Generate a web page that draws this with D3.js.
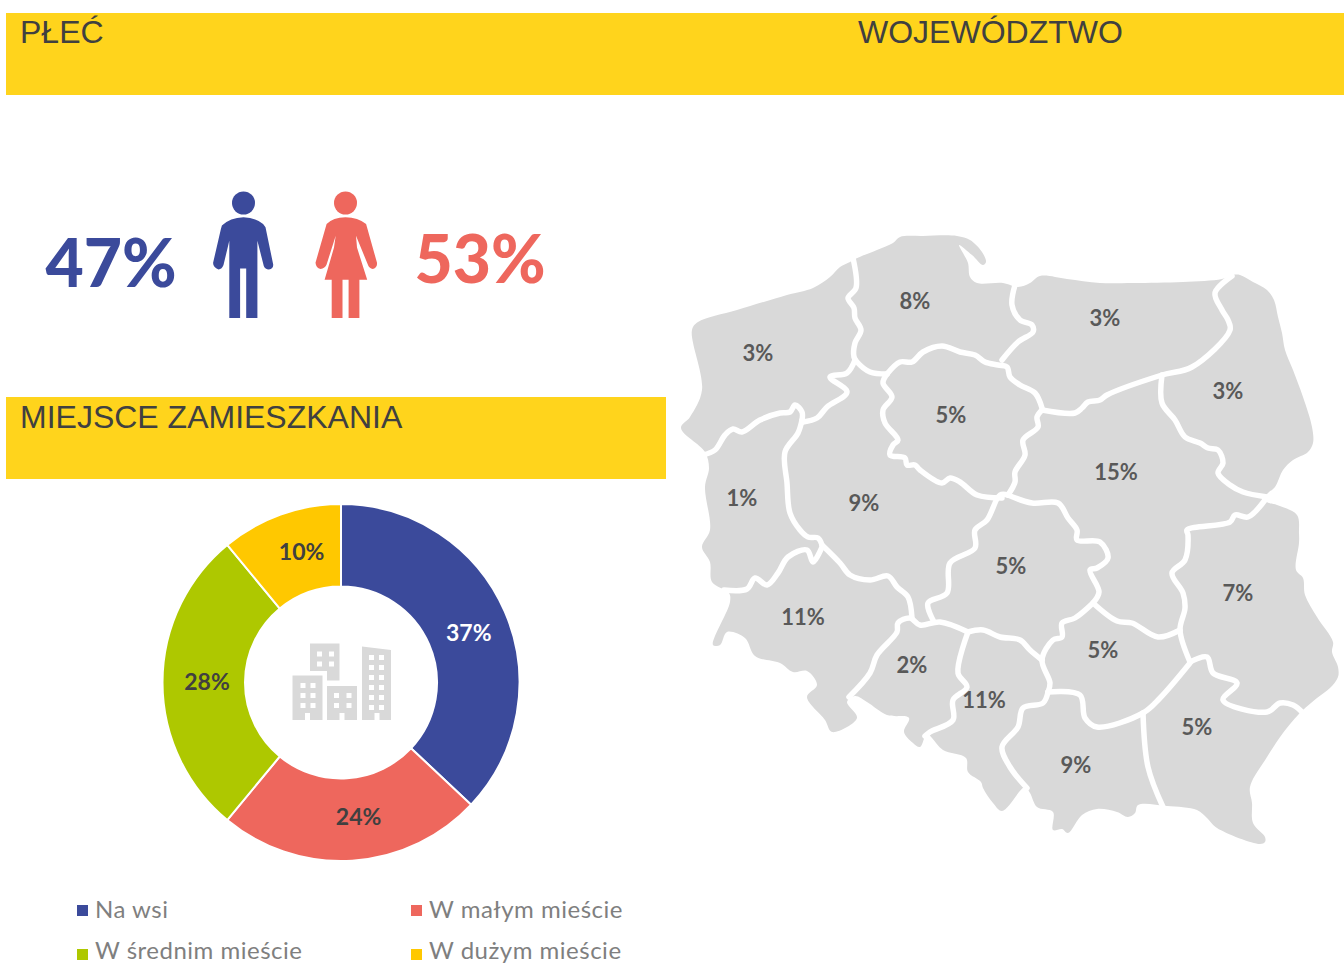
<!DOCTYPE html>
<html>
<head>
<meta charset="utf-8">
<script src="https://cdn.jsdelivr.net/npm/d3@7"></script>
<style>
body { margin: 0; background: #fff; }
svg { display: block; }
</style>
</head>
<body>
<svg></svg>
<script>
// sections
let headings = ['PŁEĆ', 'WOJEWÓDZTWO', 'MIEJSCE ZAMIESZKANIA']

// gender
let genders = ['Mężczyźni', 'Kobiety']
let genderValues = [47, 53]

// place of residence, slice sizes are read from the ring, the printed labels are separate
let places = ['Na wsi', 'W małym mieście', 'W średnim mieście', 'W dużym mieście']
let placeShares = [37, 24, 28, 11]
let placeLabels = ['37%', '24%', '28%', '10%']

// voivodeships
let regions = ['Zachodniopomorskie', 'Pomorskie', 'Warmińsko-Mazurskie', 'Podlaskie', 'Lubuskie', 'Wielkopolskie',
    'Kujawsko-Pomorskie', 'Mazowieckie', 'Łódzkie', 'Lubelskie', 'Dolnośląskie', 'Opolskie', 'Śląskie',
    'Świętokrzyskie', 'Małopolskie', 'Podkarpackie']
let regionValues = [3, 8, 3, 3, 1, 9, 5, 15, 5, 7, 11, 2, 11, 5, 9, 5]

// traced geometry of the map, in map units
let regionAnchors = [[758,353],[915,301],[1105,318],[1228,391],[742,498],[864,503],[951,415],[1116,472],
    [1011,566],[1238,593],[803,617],[912,665],[984,700],[1103,650],[1076,765],[1197,727]]

let countryOutline = [[855,259],[877,250],[893,243],[900,237],[923,236],[957,236],[970,240],[982,252],[986,262],[983,265],
    [972,255],[959,245],[963,253],[968,263],[970,277],[977,283],[1003,283],[1018,287],[1030,283],[1040,276],[1067,279],
    [1100,283],[1133,283],[1183,282],[1222,279],[1233,275],[1240,275],[1253,282],[1267,290],[1274,300],[1278,317],
    [1282,333],[1285,350],[1293,370],[1303,397],[1312,427],[1313,443],[1308,452],[1293,460],[1283,470],[1275,487],
    [1268,493],[1265,497],[1267,502],[1277,505],[1297,515],[1299,533],[1299,543],[1296,570],[1303,578],[1305,595],
    [1317,617],[1333,642],[1332,652],[1338,667],[1338,677],[1330,688],[1317,698],[1303,710],[1298,715],[1283,733],
    [1267,757],[1250,787],[1252,803],[1253,823],[1265,837],[1265,842],[1260,844],[1217,828],[1207,818],[1197,810],
    [1167,806],[1138,805],[1135,813],[1128,817],[1117,812],[1097,809],[1082,815],[1068,833],[1062,829],[1053,830],
    [1053,812],[1037,807],[1030,793],[1025,787],[1002,811],[993,803],[983,788],[981,782],[968,772],[966,758],[943,750],
    [932,738],[927,733],[920,747],[913,743],[904,732],[909,718],[887,715],[867,702],[855,696],[847,702],[857,718],
    [832,732],[825,720],[807,697],[817,685],[807,671],[793,672],[780,663],[755,656],[745,638],[727,632],[720,645],
    [713,645],[730,602],[729,593],[712,582],[710,562],[702,547],[710,530],[705,487],[709,468],[705,452],[681,428],
    [690,417],[702,390],[692,330],[698,322],[737,310],[787,295],[813,288],[830,277],[840,267],[850,262]]

let regionBorders = [
    [[853,258],[856,288],[848,298],[854,308],[855,318],[861,330],[855,343],[854,357],[857,362],[870,372],[887,374]],
    [[887,374],[900,362],[912,362],[923,352],[942,346],[960,352],[975,355],[985,362],[998,365],[1007,367],[1010,377],[1020,385],[1035,393],[1042,408]],
    [[1015,285],[1012,305],[1020,320],[1032,325],[1033,332],[1018,342],[1002,360]],
    [[1042,410],[1075,413],[1082,408],[1088,402],[1100,400],[1107,395],[1162,375],[1192,367],[1230,330],[1228,320],[1222,310],[1215,293],[1232,276]],
    [[1162,375],[1162,403],[1175,420],[1185,437],[1200,443],[1208,448],[1218,450],[1223,463],[1218,473],[1230,485],[1243,492],[1267,497]],
    [[1265,500],[1248,517],[1235,515],[1230,522],[1187,530],[1188,535],[1185,560],[1172,573],[1183,593],[1185,608],[1180,630],[1190,662]],
    [[1190,662],[1207,657],[1213,673],[1237,683],[1223,700],[1267,712],[1280,703],[1293,705],[1303,713]],
    [[1180,630],[1158,637],[1132,623],[1117,621],[1093,603]],
    [[1042,410],[1037,417],[1038,427],[1023,440],[1025,455],[1015,472],[1015,482],[1008,495]],
    [[1008,495],[1032,503],[1058,503],[1068,518],[1077,530],[1077,540],[1100,542],[1108,558],[1097,568],[1090,570],[1099,592],[1093,603]],
    [[1093,603],[1075,618],[1062,623],[1062,637],[1053,640],[1042,660],[1050,683],[1048,692]],
    [[1048,692],[1080,695],[1085,718],[1097,727],[1143,713],[1160,698],[1190,663]],
    [[1143,713],[1148,767],[1163,807]],
    [[1048,692],[1043,703],[1023,708],[1018,727],[1002,747],[1010,767],[1027,788]],
    [[1042,660],[1030,650],[1020,640],[1000,637],[983,630],[968,632]],
    [[968,632],[958,673],[967,687],[953,700],[953,720],[930,732],[925,736]],
    [[968,632],[940,622],[920,625],[910,618],[898,623],[897,632],[877,655],[870,673],[849,697]],
    [[933,620],[928,603],[947,593],[950,563],[975,548],[975,530],[987,520],[1000,495],[1008,495]],
    [[1002,498],[977,495],[960,482],[950,478],[942,483],[920,470],[915,465],[907,465],[905,458],[890,455],[893,445],[898,440],[885,423],[883,410],[892,397],[883,383],[887,374]],
    [[855,360],[847,373],[830,377],[847,392],[827,407],[817,418],[803,422]],
    [[703,455],[715,450],[725,435],[733,429],[742,432],[760,420],[780,413],[790,412],[795,405],[802,412],[802,420]],
    [[802,420],[798,433],[785,452],[787,483],[790,513],[800,530],[808,537],[818,538],[822,545]],
    [[724,590],[747,589],[755,578],[767,585],[778,573],[788,557],[807,550],[813,562],[822,547]],
    [[822,545],[840,563],[850,575],[870,580],[888,576],[897,587],[908,597],[912,618]]
]

let width = 1344
let height = 964

let colors = { blue: '#3B4A9B', coral: '#EE675D', green: '#AEC800', yellow: '#FFC800', band: '#FFD41C', map: '#D9D9D9' }
let placeColors = [colors.blue, colors.coral, colors.green, colors.yellow]
let labelFont = 'Lato, sans-serif'

let svg = d3.select('svg')

let drawCanvas = () => {
    svg.attr('width', width)
    svg.attr('height', height)
}

let drawHeaders = () => {
    svg.append('rect').attr('x', 6).attr('y', 13).attr('width', 1338).attr('height', 82).attr('fill', colors.band)
    svg.append('rect').attr('x', 6).attr('y', 397).attr('width', 660).attr('height', 82).attr('fill', colors.band)

    let spots = [[20, 43], [858, 43], [20, 428]]
    svg.selectAll('.heading')
        .data(headings)
        .enter()
        .append('text')
        .attr('class', 'heading')
        .attr('x', (item, i) => spots[i][0])
        .attr('y', (item, i) => spots[i][1])
        .attr('font-family', 'Liberation Sans, Arial, sans-serif')
        .attr('font-size', 32)
        .attr('fill', '#404040')
        .text((item) => item)
}

let drawGender = () => {
    let man = 'M243.5 217.2 Q230 217.5 221.9 225.6 L220.9 229 L213.1 262.8 Q213 267 218.5 269.5 Q222 269 223.5 265 L229.3 240.8 L229.3 318 L240.1 318 L240.1 268.5 L246.2 268.5 L246.2 318 L257.4 318 L257.4 240.8 L263.8 266.1 Q265 269.5 268.9 269.5 Q273.5 268.5 273.2 264.5 L265.5 227.3 L263.1 223.9 Q255 217.5 243.5 217.2 Z'
    let woman = 'M345.5 217.2 Q333 217.5 326.6 223.9 L315.5 262.8 Q316 268 320.5 268.9 Q325 268.5 326.6 264.5 L335.7 235.7 L334 247.6 L324.6 279.7 L331.7 279.7 L331.7 318 L342.5 318 L342.5 279.7 L348.6 279.7 L348.6 318 L359.4 318 L359.4 279.7 L367.2 279.7 L357 247.6 L356 235.7 L367.8 264.5 Q369 268.5 372.9 268.9 Q377.5 267.5 377 262.8 L366.1 223.9 Q358 217.5 345.5 217.2 Z'

    let icons = [[man, 243.5, colors.blue], [woman, 345.5, colors.coral]]
    icons.forEach((icon) => {
        svg.append('path').attr('d', icon[0]).attr('fill', icon[2])
        svg.append('circle').attr('cx', icon[1]).attr('cy', 203).attr('r', 11.5).attr('fill', icon[2])
    })

    let numbers = [[111, 287, colors.blue], [480, 283, colors.coral]]
    svg.selectAll('.gender')
        .data(genderValues)
        .enter()
        .append('text')
        .attr('class', 'gender')
        .attr('x', (item, i) => numbers[i][0])
        .attr('y', (item, i) => numbers[i][1])
        .attr('text-anchor', 'middle')
        .attr('font-family', labelFont)
        .attr('font-weight', 900)
        .attr('font-size', 66)
        .attr('fill', (item, i) => numbers[i][2])
        .text((item) => item + '%')
}

let drawDonut = () => {
    let pie = d3.pie().sort(null)
    let arc = d3.arc().innerRadius(96).outerRadius(178.5)
    let labelArc = d3.arc().innerRadius(137).outerRadius(137)
    // the labels do not sit exactly on the slice centroids
    let nudges = [[2, 5], [9, -2], [3, -1], [7, -2]]

    let donut = svg.append('g').attr('transform', 'translate(341, 682.5)')

    donut.selectAll('path')
        .data(pie(placeShares))
        .enter()
        .append('path')
        .attr('d', arc)
        .attr('fill', (item, i) => placeColors[i])
        .attr('stroke', '#fff')
        .attr('stroke-width', 2)

    donut.selectAll('text')
        .data(pie(placeShares))
        .enter()
        .append('text')
        .attr('transform', (item, i) => {
            let c = labelArc.centroid(item)
            return 'translate(' + (c[0] + nudges[i][0]) + ', ' + (c[1] + nudges[i][1]) + ')'
        })
        .attr('text-anchor', 'middle')
        .attr('dy', '0.35em')
        .attr('font-family', labelFont)
        .attr('font-weight', 700)
        .attr('font-size', 23)
        .attr('fill', (item, i) => i == 0 ? '#fff' : '#404040')
        .text((item, i) => placeLabels[i])
}

let drawBuildings = () => {
    let city = svg.append('g').attr('fill', colors.map)
    city.append('path').attr('d', 'M310 643.5 H339.5 V680.5 H327 V671 H310 Z')
    city.append('rect').attr('x', 292.5).attr('y', 675.5).attr('width', 30).attr('height', 44.5)
    city.append('rect').attr('x', 327).attr('y', 686).attr('width', 30).attr('height', 34)
    city.append('path').attr('d', 'M362 646.5 L391 650 V720 H362 Z')

    let windows = []
    d3.range(2).forEach((col) => d3.range(2).forEach((row) => windows.push([317 + col * 12, 651.5 + row * 10])))
    d3.range(2).forEach((col) => d3.range(3).forEach((row) => windows.push([300.5 + col * 10, 683 + row * 10])))
    d3.range(2).forEach((col) => d3.range(2).forEach((row) => windows.push([334 + col * 12.5, 693 + row * 10])))
    d3.range(2).forEach((col) => d3.range(6).forEach((row) => windows.push([369 + col * 10, 655 + row * 10])))

    svg.selectAll('.window')
        .data(windows)
        .enter()
        .append('rect')
        .attr('class', 'window')
        .attr('x', (item) => item[0])
        .attr('y', (item) => item[1])
        .attr('width', 5)
        .attr('height', 5)
        .attr('fill', '#fff')

    let doors = [305, 339.5, 374.5]
    svg.selectAll('.door')
        .data(doors)
        .enter()
        .append('rect')
        .attr('class', 'door')
        .attr('x', (item) => item)
        .attr('y', 713)
        .attr('width', 5)
        .attr('height', 7)
        .attr('fill', '#fff')
}

let drawLegend = () => {
    let xSpots = [77, 411, 77, 411]
    let ySpots = [905, 905, 949, 949]
    // second row sits right on the page edge, lifted so the text box stays inside
    let textY = [13, 13, 10, 10]

    let rows = svg.selectAll('.legend')
        .data(places)
        .enter()
        .append('g')
        .attr('class', 'legend')
        .attr('transform', (item, i) => 'translate(' + xSpots[i] + ', ' + ySpots[i] + ')')

    rows.append('rect')
        .attr('width', 11)
        .attr('height', 11)
        .attr('fill', (item, i) => placeColors[i])

    rows.append('text')
        .attr('x', 18)
        .attr('y', (item, i) => textY[i])
        .attr('font-family', labelFont)
        .attr('font-size', 24)
        .attr('letter-spacing', 0.5)
        .attr('fill', '#7F7F7F')
        .text((item) => item)
}

let drawMap = () => {
    let xScale = d3.scaleLinear().domain([680, 1340]).range([680, 1340])
    let yScale = d3.scaleLinear().domain([230, 850]).range([230, 850])

    let outline = d3.line()
        .x((item) => xScale(item[0]))
        .y((item) => yScale(item[1]))
        .curve(d3.curveCatmullRomClosed.alpha(0.5))

    let border = d3.line()
        .x((item) => xScale(item[0]))
        .y((item) => yScale(item[1]))
        .curve(d3.curveCatmullRom.alpha(0.5))

    svg.append('path')
        .attr('d', outline(countryOutline))
        .attr('fill', colors.map)

    svg.selectAll('.border')
        .data(regionBorders)
        .enter()
        .append('path')
        .attr('class', 'border')
        .attr('d', border)
        .attr('fill', 'none')
        .attr('stroke', '#fff')
        .attr('stroke-width', 5.5)
        .attr('stroke-linecap', 'round')
        .attr('stroke-linejoin', 'round')

    svg.selectAll('.region')
        .data(regions)
        .enter()
        .append('text')
        .attr('class', 'region')
        .attr('x', (item, i) => xScale(regionAnchors[i][0]))
        .attr('y', (item, i) => yScale(regionAnchors[i][1]))
        .attr('text-anchor', 'middle')
        .attr('dy', '0.35em')
        .attr('font-family', labelFont)
        .attr('font-weight', 700)
        .attr('font-size', 22)
        .attr('fill', '#595959')
        .text((item, i) => regionValues[i] + '%')
}

drawCanvas()
drawHeaders()
drawGender()
drawDonut()
drawBuildings()
drawLegend()
drawMap()
</script>
</body>
</html>
